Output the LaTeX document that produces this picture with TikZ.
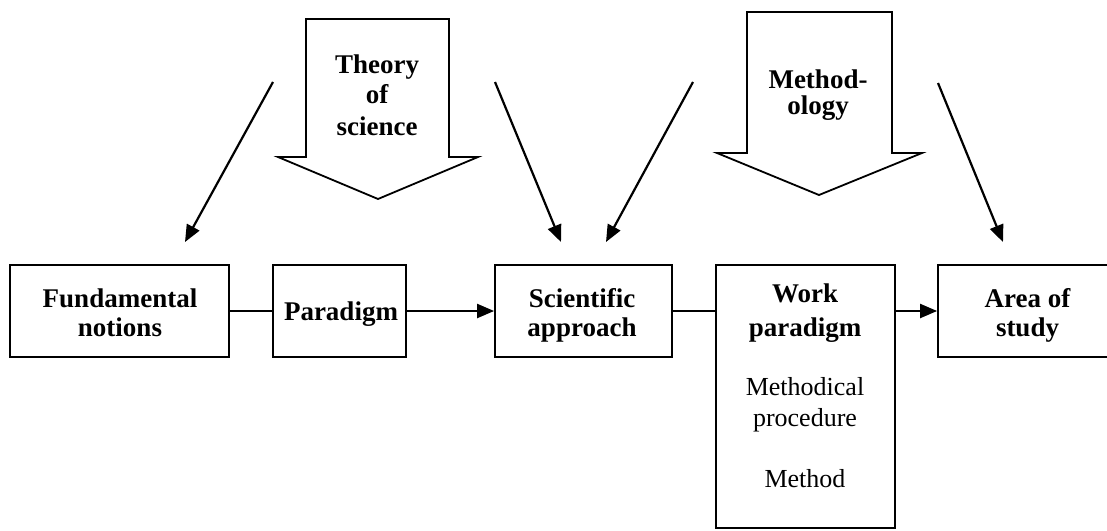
\documentclass[tikz,border=0pt]{standalone}
\usepackage{fontspec}
\setmainfont{Liberation Serif}
\usetikzlibrary{arrows.meta}
\begin{document}
\begin{tikzpicture}[x=1pt,y=-1pt,
  box/.style={draw,line width=1.8pt,inner sep=0pt},
  bt/.style={inner sep=0pt,anchor=base,font=\fontsize{27}{30}\selectfont\bfseries},
  rt/.style={inner sep=0pt,anchor=base,font=\fontsize{26}{30}\selectfont},
  link/.style={line width=1.6pt},
  pointer/.style={line width=2.2pt,-{Triangle[length=17pt,width=14pt]}},
  bigarrow/.style={draw,line width=1.8pt,line join=miter,fill=white}]
\useasboundingbox (0,0) rectangle (1107,530);
\clip (0,0) rectangle (1107,530);

% boxes of the main row
\node[box,minimum width=219pt,minimum height=92pt] (fund) at (119.5,311) {};
\node[box,minimum width=133pt,minimum height=92pt] (para) at (339.5,311) {};
\node[box,minimum width=177pt,minimum height=92pt] (sci) at (583.5,311) {};
\node[box,minimum width=179pt,minimum height=263pt] (work) at (805.5,396.5) {};
\node[box,minimum width=182pt,minimum height=92pt] (area) at (1029,311) {};

% box texts
\node[bt] (fundA) at (120,307) {Fundamental};
\node[bt] (fundB) at (120,336.5) {notions};
\node[bt] (paraA) at (341,320) {Paradigm};
\node[bt] (sciA) at (582,307) {Scientific};
\node[bt] (sciB) at (582,336.5) {approach};
\node[bt] (workA) at (805,302) {Work};
\node[bt] (workB) at (805,336.5) {paradigm};
\node[rt] (workC) at (805,395) {Methodical};
\node[rt] (workD) at (805,426.5) {procedure};
\node[rt] (workE) at (805,487) {Method};
\node[bt] (areaA) at (1027.5,307) {Area of};
\node[bt] (areaB) at (1027.5,336.5) {study};

% connectors between boxes
\draw[link] (fund.east) -- (para.west);
\draw[pointer] (para.east) -- (sci.west);
\draw[link] (sci.east) -- (sci.east -| work.west);
\draw[pointer] (work.east |- area.west) -- (area.west);

% broad block arrows
\draw[bigarrow] (306,19) -- (449,19) -- (449,157) -- (478,157) -- (378,199)
  -- (278,157) -- (306,157) -- cycle;
\node[bt] (theoA) at (377,73) {Theory};
\node[bt] (theoB) at (377,103) {of};
\node[bt] (theoC) at (377,135) {science};

\draw[bigarrow] (747,12) -- (892,12) -- (892,153) -- (922,153) -- (819,195)
  -- (717,153) -- (747,153) -- cycle;
\node[bt] (methA) at (818,88) {Method-};
\node[bt] (methB) at (818,114) {ology};

% slanted pointers
\coordinate (s1) at (273,82);  \coordinate (e1) at (185,242);
\coordinate (s2) at (495,82);  \coordinate (e2) at (561,242);
\coordinate (s3) at (693,82);  \coordinate (e3) at (606,242);
\coordinate (s4) at (938,83);  \coordinate (e4) at (1003,242);
\draw[pointer] (s1) -- (e1);
\draw[pointer] (s2) -- (e2);
\draw[pointer] (s3) -- (e3);
\draw[pointer] (s4) -- (e4);
\end{tikzpicture}
\end{document}
